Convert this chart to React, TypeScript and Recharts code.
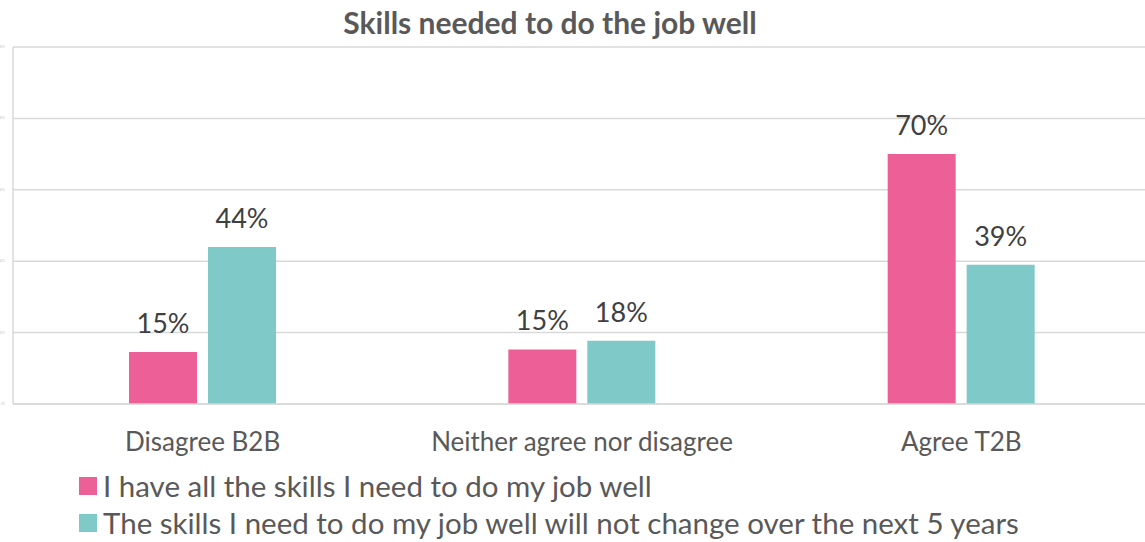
import { BarChart, Bar, XAxis, YAxis, CartesianGrid, LabelList } from "recharts";

const categories = ["Disagree B2B", "Neither agree nor disagree", "Agree T2B"];
const haveSkills = [14.6, 15.3, 70];
const skillsNoChange = [44, 17.7, 39];
const seriesNames = [
  "I have all the skills I need to do my job well",
  "The skills I need to do my job well will not change over the next 5 years",
];
const yTicks = [0, 20, 40, 60, 80, 100];

const PINK = "#ED5F97";
const TEAL = "#7FCAC8";
const TEXT = "#595959";
const FONT = "Lato, 'Open Sans', sans-serif";

const data = categories.map((c, i) => ({
  name: c,
  a: haveSkills[i],
  b: skillsNoChange[i],
}));

const pct = (v: any) => `${Math.round(Number(v))}%`;

// legend drawn as plain html under the plot
const LegendBox = () => (
  <div
    style={{
      position: "absolute",
      top: 467,
      left: 79,
      fontFamily: FONT,
      fontSize: 29.5,
      color: TEXT,
      lineHeight: 1,
      whiteSpace: "nowrap",
    }}
  >
    {seriesNames.map((n, i) => (
      <div key={n} style={{ display: "flex", alignItems: "center", height: 37 }}>
        <span
          style={{
            display: "inline-block",
            width: 18,
            height: 18,
            background: i === 0 ? PINK : TEAL,
            marginRight: 6,
          }}
        />
        <span>{n}</span>
      </div>
    ))}
  </div>
);

export default function App() {
  return (
    <div
      style={{
        position: "absolute",
        top: 0,
        left: 0,
        width: 1145,
        height: 542,
        overflow: "hidden",
        background: "#fff",
      }}
    >
      <div
        style={{
          position: "absolute",
          top: 4,
          left: 0,
          width: 1100,
          textAlign: "center",
          fontFamily: FONT,
          fontWeight: 700,
          fontSize: 30,
          lineHeight: "36px",
          color: TEXT,
        }}
      >
        Skills needed to do the job well
      </div>
      <BarChart
        width={1155}
        height={542}
        data={data}
        margin={{ top: 47, right: 4, bottom: 108, left: 0 }}
        barSize={68}
        barGap={11}
      >
        <CartesianGrid vertical={false} stroke="#d9d9d9" strokeWidth={1.5} />
        <XAxis
          dataKey="name"
          height={30}
          tickLine={false}
          axisLine={{ stroke: "#d9d9d9", strokeWidth: 1.5 }}
          tick={{ fontSize: 26, fill: TEXT, fontFamily: FONT }}
          tickMargin={23}
          interval={0}
        />
        <YAxis
          width={13}
          domain={[0, 100]}
          ticks={yTicks}
          tickLine={false}
          axisLine={{ stroke: "#d9d9d9", strokeWidth: 1.5 }}
          tick={{ fontSize: 3, fill: "#bbb" }}
          tickFormatter={(v) => `${v}%`}
          tickMargin={2}
        />
        <Bar dataKey="a" name={seriesNames[0]} fill={PINK} isAnimationActive={false}>
          <LabelList dataKey="a" position="top" offset={19} formatter={pct} style={{ fontSize: 27, fill: "#404040", fontFamily: FONT }} />
        </Bar>
        <Bar dataKey="b" name={seriesNames[1]} fill={TEAL} isAnimationActive={false}>
          <LabelList dataKey="b" position="top" offset={19} formatter={pct} style={{ fontSize: 27, fill: "#404040", fontFamily: FONT }} />
        </Bar>
      </BarChart>
      <LegendBox />
    </div>
  );
}
